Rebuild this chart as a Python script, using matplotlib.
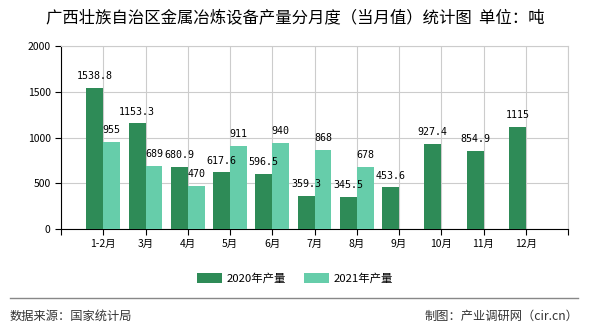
import numpy as np
import matplotlib.pyplot as plt

plt.rcParams['font.family'] = ['Noto Sans CJK SC', 'DejaVu Sans']

months = ['1-2月', '3月', '4月', '5月', '6月', '7月', '8月', '9月', '10月', '11月', '12月']
output_2020 = [1538.8, 1153.3, 680.9, 617.6, 596.5, 359.3, 345.5, 453.6, 927.4, 854.9, 1115]
output_2021 = [955, 689, 470, 911, 940, 868, 678]
value_text_2020 = ['1538.8', '1153.3', '680.9', '617.6', '596.5', '359.3', '345.5', '453.6', '927.4', '854.9', '1115']
value_text_2021 = ['955', '689', '470', '911', '940', '868', '678']

c2020 = '#2e8b57'
c2021 = '#66cdaa'

fig = plt.figure(figsize=(5.9, 3.3), dpi=100)
ax = fig.add_axes([61 / 590, 1 - 229 / 330, 507 / 590, 183 / 330])

x = np.arange(1, len(months) + 1)
w = 0.4
b1 = ax.bar(x[:len(output_2020)] - w / 2, output_2020, w, color=c2020, label='2020年产量', zorder=3)
b2 = ax.bar(x[:len(output_2021)] + w / 2, output_2021, w, color=c2021, label='2021年产量', zorder=3)

# value labels above each bar
for bars, texts in [(b1, value_text_2020), (b2, value_text_2021)]:
    for rect, txt in zip(bars, texts):
        ax.annotate(txt, (rect.get_x() + rect.get_width() / 2, rect.get_height()),
                    xytext=(0, 5), textcoords='offset points', ha='center', va='bottom',
                    fontsize=7.2, family=['DejaVu Sans Mono'])

ax.set_xlim(0, len(months) + 1)
ax.set_ylim(0, 2000)
ax.set_yticks([0, 500, 1000, 1500, 2000])
ax.set_xticks(np.arange(0, len(months) + 2))
ax.set_xticklabels([''] + months + [''])
ax.tick_params(labelsize=7.5, length=4, color='black')
ax.grid(True, color='#cccccc', linewidth=0.8, zorder=0)

for side in ['top', 'right']:
    ax.spines[side].set_color('#cccccc')
ax.spines['left'].set_color('black')
ax.spines['bottom'].set_color('black')

fig.text(0.5, 1 - 19 / 330, '广西壮族自治区金属冶炼设备产量分月度（当月值）统计图  单位：吨',
         ha='center', va='center', fontsize=11.8)

fig.legend(handles=[b1, b2], loc='center', bbox_to_anchor=(0.5, 1 - 278 / 330),
           ncol=2, frameon=False, fontsize=8.2, handlelength=2.2, handleheight=1.0,
           columnspacing=1.6, handletextpad=0.4)

fig.add_artist(plt.Line2D([10 / 590, 578 / 590], [1 - 298 / 330] * 2, color='#888888', linewidth=1))
fig.text(10 / 590, 1 - 316 / 330, '数据来源：国家统计局', ha='left', va='center', fontsize=8.8, color='#333333')
fig.text(578 / 590, 1 - 316 / 330, '制图：产业调研网（cir.cn）', ha='right', va='center', fontsize=8.8, color='#333333')

fig.savefig('out.png', dpi=100)
